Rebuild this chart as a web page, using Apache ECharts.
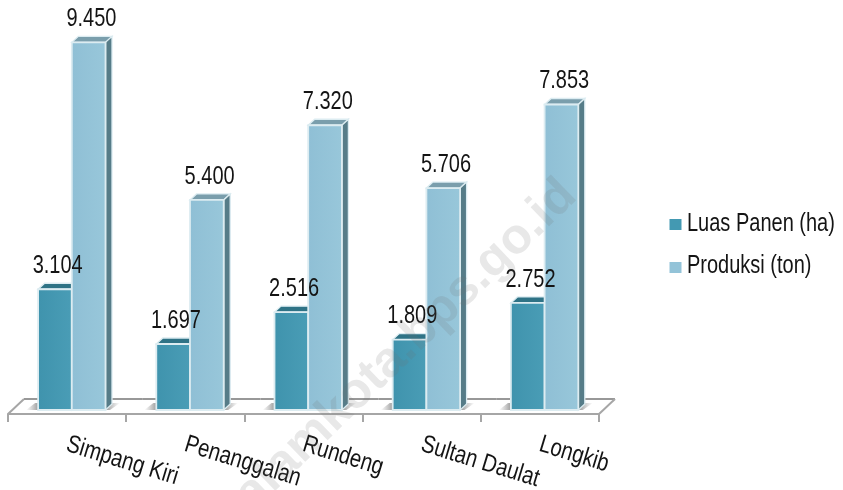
<!DOCTYPE html>
<html><head><meta charset="utf-8"><style>html,body{margin:0;padding:0;background:#fff}#c{width:843px;height:490px}</style>
<script src="https://cdn.jsdelivr.net/npm/echarts@6/dist/echarts.min.js"></script></head>
<body><div id="c"></div>
<script>
const categories = ['Simpang Kiri','Penanggalan','Rundeng','Sultan Daulat','Longkib'];
const luasPanen = [3104,1697,2516,1809,2752];
const produksi = [9450,5400,7320,5706,7853];
const seriesNames = ['Luas Panen (ha)','Produksi (ton)'];
const watermark = 'alamkota.bps.go.id';
const FONT = '"Liberation Sans",Arial,sans-serif';
const SX = 0.8, TXT = '#141414';
const fmt = v => String(v).replace(/(\d)(\d{3})$/,'$1.$2');
const BW = 33.7, DX = 6.5, DY = 6, SHIFT = 4.7;
const pal = [
  {l:'#3f93ad',r:'#4a9db6',top:'#2f7386',side:'#4d7a86'},
  {l:'#8fbfd5',r:'#98c7da',top:'#7a9eac',side:'#567c88'}
];
function barItem(k){
  return function(params, api){
    const i = api.value(0), v = api.value(1);
    const p = api.coord([i,v]), b = api.coord([i,0]);
    const x0 = p[0] + SHIFT + (k===0 ? -BW : 0), x1 = x0 + BW, y0 = p[1], y1 = b[1];
    const c = pal[k];
    const stroke = '#dcecf1';
    const ch = [];
    ch.push({type:'polygon',shape:{points:[[x0,y0],[x0+DX,y0-DY],[x1+DX,y0-DY],[x1,y0]]},
      style:{fill:c.top,stroke:stroke,lineWidth:1.3}});
    ch.push({type:'polygon',shape:{points:[[x1,y0],[x1+DX,y0-DY],[x1+DX,y1-DY],[x1,y1]]},
      style:{fill:c.side,stroke:stroke,lineWidth:1.3}});
    ch.push({type:'rect',shape:{x:x0,y:y0,width:BW,height:y1-y0},
      style:{fill:new echarts.graphic.LinearGradient(0,0,1,0,[{offset:0,color:c.l},{offset:1,color:c.r}]),stroke:stroke,lineWidth:1.8}});
    const cx = (x0+x1+DX)/2 - 0.5;
    ch.push({type:'text',z2:100,x:cx,y:y0-23.2,scaleX:SX,style:{text:fmt(v),x:0,y:0,align:'center',verticalAlign:'middle',
      font:'25px '+FONT,fill:TXT}});
    return {type:'group',children:ch};
  };
}
function floorItem(params, api){
  const i = api.value(0);
  const b = api.coord([i,0]);
  const size = api.size([1,0])[0];
  const l = b[0]-size/2, r = b[0]+size/2, front = b[1]+4, back = b[1]-11;
  const line = {stroke:'#a6a6a6',lineWidth:2,fill:'none'};
  const ch = [];
  if (i===0) ch.push({type:'polyline',shape:{points:[[l,front],[l+16,back]]},style:line});
  ch.push({type:'line',shape:{x1:l+16,y1:back,x2:r+16,y2:back},style:{stroke:'#989898',lineWidth:2}});
  if (i===categories.length-1) ch.push({type:'polyline',shape:{points:[[r,front],[r+16,back]]},style:line});
  const s0 = b[0]+SHIFT-BW, s1 = b[0]+SHIFT+BW+DX;
  ch.push({type:'polygon',shape:{points:[[s0-3,b[1]-7],[s0+2,b[1]-7],[s0+2,b[1]],[s0-12,b[1]]]},
    style:{fill:new echarts.graphic.LinearGradient(0,0,1,0,[{offset:0,color:'rgba(130,130,130,0)'},{offset:1,color:'rgba(110,110,110,0.8)'}])}});
  ch.push({type:'polygon',shape:{points:[[s1-8,b[1]-7],[s1+8,b[1]-7],[s1-2,b[1]],[s1-8,b[1]]]},
    style:{fill:new echarts.graphic.LinearGradient(0,0,1,0,[{offset:0,color:'rgba(110,110,110,0.8)'},{offset:1,color:'rgba(130,130,130,0)'}])}});
  ch.push({type:'text',x:b[0],y:b[1]+34,rotation:-17*Math.PI/180,scaleX:0.815,
    style:{text:categories[i],x:0,y:0,align:'left',verticalAlign:'middle',font:'25px '+FONT,fill:TXT}});
  return {type:'group',children:ch};
}
const chart = echarts.init(document.getElementById('c'),null,{renderer:'canvas'});
chart.setOption({
  animation:false,
  backgroundColor:'#fff',
  legend:{orient:'vertical',left:664.5,top:207.5,padding:5,itemWidth:12,itemHeight:11,itemGap:19,icon:'rect',
    data:seriesNames,formatter:()=>' ',textStyle:{fontSize:24,lineHeight:12,color:'#fff'}},
  graphic:[
    {type:'text',x:687,y:224,scaleX:SX,z:10,style:{text:seriesNames[0],align:'left',verticalAlign:'middle',font:'25px '+FONT,fill:TXT}},
    {type:'text',x:687,y:266.5,scaleX:SX,z:10,style:{text:seriesNames[1],align:'left',verticalAlign:'middle',font:'25px '+FONT,fill:TXT}},
    {type:'text',x:569,y:188,rotation:44*Math.PI/180,z:20,silent:true,
     style:{text:watermark,align:'right',verticalAlign:'middle',font:'bold 50px '+FONT,fill:'rgba(110,110,110,0.16)'}}
  ],
  grid:{left:8,right:244,top:21,bottom:80,containLabel:false},
  xAxis:{type:'category',data:categories,offset:4,
    axisLine:{show:true,onZero:false,lineStyle:{color:'#a6a6a6',width:2}},
    axisTick:{show:true,length:8,lineStyle:{color:'#a6a6a6',width:2}},
    axisLabel:{show:false}},
  yAxis:{type:'value',min:0,max:10000,show:false,splitLine:{show:false}},
  series:[
    {type:'custom',name:'floor',renderItem:floorItem,data:luasPanen.map((v,i)=>[i,0]),silent:true,z:1},
    {type:'custom',name:seriesNames[0],itemStyle:{color:'#4399b2'},renderItem:barItem(0),data:luasPanen.map((v,i)=>[i,v]),z:2},
    {type:'custom',name:seriesNames[1],itemStyle:{color:'#93c3d8'},renderItem:barItem(1),data:produksi.map((v,i)=>[i,v]),z:2}
  ]
});
</script></body></html>
